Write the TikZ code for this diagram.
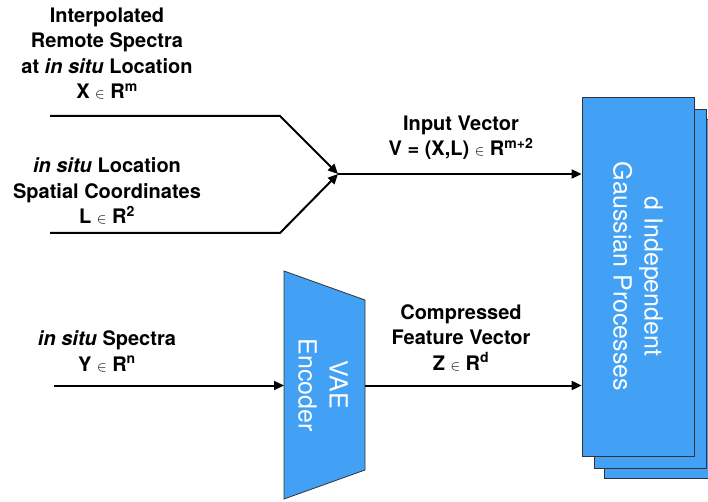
\documentclass[tikz,border=0pt]{standalone}
\usepackage{fontspec}
\setmainfont{TeX Gyre Heros}
\usepackage{tikz}
\usetikzlibrary{arrows.meta}
\usetikzlibrary{positioning}
\definecolor{gpblue}{RGB}{66,161,245}

\begin{document}
\begin{tikzpicture}[x=1pt,y=1pt,>={Triangle[length=10pt,width=9pt]},line width=2pt,
  lab/.style={align=center,inner sep=0pt,font=\fontsize{20}{25.5}\selectfont\bfseries},
  block/.style={fill=gpblue,draw=black!80,line width=0.8pt},
  inside/.style={text=white,align=center,inner sep=0pt,rotate=-90,font=\fontsize{25}{31}\selectfont}]
  \useasboundingbox (0,0) rectangle (708,501);
  % stacked gaussian process boxes
  \node[block,minimum width=112pt,minimum height=359pt] (gp3) at (660,202.5) {};
  \node[block,minimum width=112pt,minimum height=359pt] (gp2) at (650,212.5) {};
  \node[block,minimum width=112pt,minimum height=359pt] (gp) at (638,224.5) {};
  \node[inside] (gptext) at (gp) {d Independent\\Gaussian Processes};
  % encoder
  \draw[block] (284,230) -- (365,201) -- (365,31) -- (284,2) -- cycle;
  \node[inside] (vae) at (323,116) {VAE\\Encoder};
  \coordinate (vin) at (284,115.5);
  \coordinate (vout) at (365,115.5);
  % inputs
  \coordinate (xs) at (50,385);
  \coordinate (xb) at (280,385);
  \coordinate (ls) at (50,268);
  \coordinate (lb) at (280,268);
  \coordinate (mg) at (338,327);
  \coordinate (ys) at (54,115.5);
  \draw[->] (xs) -- (xb) -- (mg);
  \draw[->] (ls) -- (lb) -- (mg);
  \draw[->] (mg) -- (mg -| gp.west);
  \draw[->] (ys) -- (vin);
  \draw[->] (vout) -- (vout -| gp.west);
  % labels
  \node[lab] (xlab) at (107,447.5) {Interpolated\\Remote Spectra\\at \textit{in situ} Location\\X {\fontsize{14}{14}\selectfont$\in$} R\textsuperscript{m}};
  \node[lab] (llab) at (107,310) {\textit{in situ} Location\\Spatial Coordinates\\L {\fontsize{14}{14}\selectfont$\in$} R\textsuperscript{2}};
  \node[lab] (vlab) at (461,363.5) {Input Vector\\V = (X,L) {\fontsize{14}{14}\selectfont$\in$} R\textsuperscript{m+2}};
  \node[lab] (ylab) at (107,149.5) {\textit{in situ} Spectra\\Y {\fontsize{14}{14}\selectfont$\in$} R\textsuperscript{n}};
  \node[lab] (zlab) at (461,163.5) {Compressed\\Feature Vector\\Z {\fontsize{14}{14}\selectfont$\in$} R\textsuperscript{d}};
\end{tikzpicture}
\end{document}
